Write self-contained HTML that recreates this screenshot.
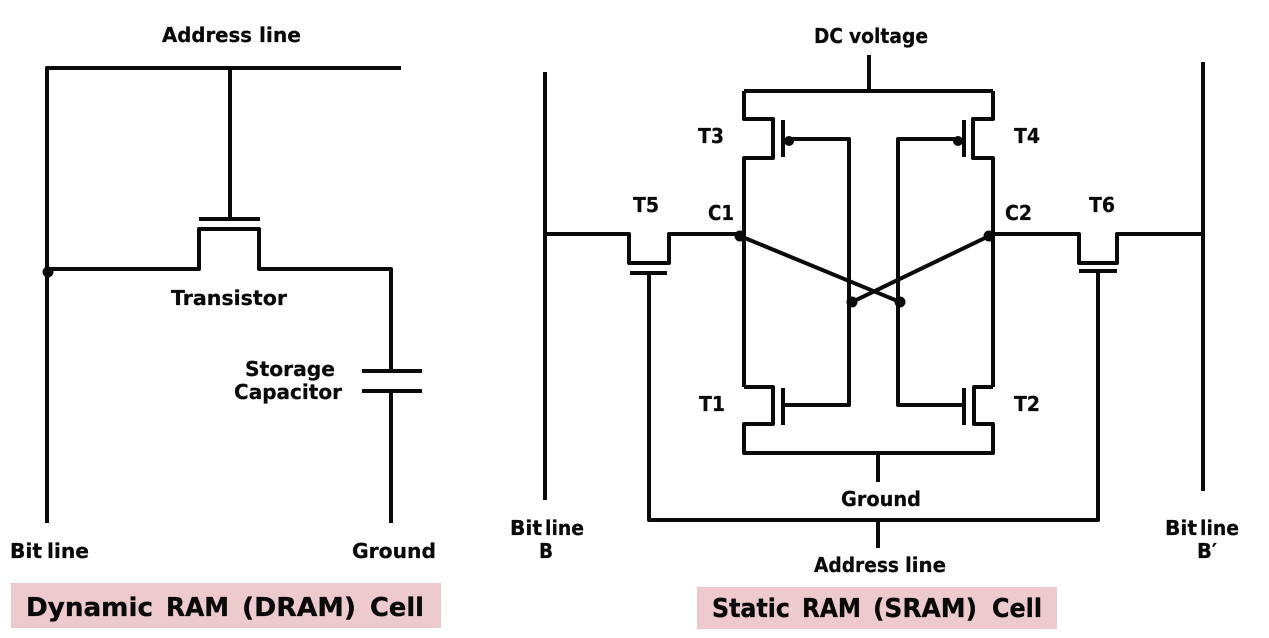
<!DOCTYPE html>
<html><head><meta charset="utf-8"><style>
html,body{margin:0;padding:0;background:#fff;width:1269px;height:638px;overflow:hidden}
svg{display:block;filter:blur(.35px)}
text{font-family:"DejaVu Sans","Liberation Sans",sans-serif;font-weight:bold;fill:#0a0a0a;stroke:#0a0a0a;stroke-width:.25px;font-size:20px}
.t{font-size:26px;stroke-width:.35px}
.l{fill:none;stroke:#0a0a0a;stroke-width:4;stroke-linejoin:round;stroke-linecap:butt}
.c{fill:#0a0a0a}
</style></head><body>
<svg width="1269" height="638" viewBox="0 0 1269 638" xmlns="http://www.w3.org/2000/svg">
<rect x="11" y="583" width="430" height="45" fill="#edcacd"/>
<rect x="697" y="587" width="360" height="42" fill="#edcacd"/>
<!-- DRAM -->
<path class="l" d="M401 68H47V523"/>
<path class="l" d="M230 68V219M199 219H260"/>
<path class="l" d="M47 269H199V229H259V269H391V371M362 371H422M362 391H422M391 391V523"/>
<circle class="c" cx="48" cy="272" r="5.5"/>
<!-- SRAM -->
<path class="l" d="M545 72V500M1203 62V491"/>
<path class="l" d="M545 234H629V263H669V234H744"/>
<path class="l" d="M630 273H667M649 273V520H1098V271M1079 271H1117"/>
<path class="l" d="M993 234H1079V263H1117V234H1203"/>
<path class="l" d="M869 55V91M744 91H993"/>
<path class="l" d="M744 387V158H773V119H744V91M993 91V119H973V158H993V387"/>
<path class="l" d="M783 120V157M964 120V157"/>
<path class="l" d="M789 139H849V405H783M783 388V425"/>
<path class="l" d="M958 139H898V405H964M964 388V425"/>
<path class="l" d="M744 387H773V424H744V453H993V424H974V387H993"/>
<path class="l" d="M878 453V482M878 520V548"/>
<path class="l" d="M740 236L900 302M989 236L852 302"/>
<circle class="c" cx="789" cy="141" r="5"/>
<circle class="c" cx="958" cy="141" r="5"/>
<circle class="c" cx="740" cy="236" r="5.5"/>
<circle class="c" cx="989" cy="236" r="5.5"/>
<circle class="c" cx="852" cy="302" r="5.5"/>
<circle class="c" cx="900" cy="302" r="5.5"/>
<!-- labels -->
<text x="162" y="42" textLength="90" lengthAdjust="spacingAndGlyphs">Address</text>
<text x="259" y="42" textLength="42" lengthAdjust="spacingAndGlyphs">line</text>
<text x="171" y="305" textLength="116" lengthAdjust="spacingAndGlyphs">Transistor</text>
<text x="245" y="376" textLength="90" lengthAdjust="spacingAndGlyphs">Storage</text>
<text x="234" y="399" textLength="108" lengthAdjust="spacingAndGlyphs">Capacitor</text>
<text x="10" y="558" textLength="32" lengthAdjust="spacingAndGlyphs">Bit</text>
<text x="47" y="558" textLength="42" lengthAdjust="spacingAndGlyphs">line</text>
<text x="352" y="558" textLength="84" lengthAdjust="spacingAndGlyphs">Ground</text>
<text class="t" x="26" y="616" textLength="127" lengthAdjust="spacingAndGlyphs">Dynamic</text>
<text class="t" x="166" y="616" textLength="63" lengthAdjust="spacingAndGlyphs">RAM</text>
<text class="t" x="242" y="616" textLength="114" lengthAdjust="spacingAndGlyphs">(DRAM)</text>
<text class="t" x="370" y="616" textLength="54" lengthAdjust="spacingAndGlyphs">Cell</text>
<text x="814" y="43" textLength="29" lengthAdjust="spacingAndGlyphs">DC</text>
<text x="849" y="43" textLength="79" lengthAdjust="spacingAndGlyphs">voltage</text>
<text x="698" y="143" textLength="26" lengthAdjust="spacingAndGlyphs">T3</text>
<text x="1014" y="143" textLength="26" lengthAdjust="spacingAndGlyphs">T4</text>
<text x="633" y="212" textLength="26" lengthAdjust="spacingAndGlyphs">T5</text>
<text x="1089" y="212" textLength="26" lengthAdjust="spacingAndGlyphs">T6</text>
<text x="708" y="220" textLength="26" lengthAdjust="spacingAndGlyphs">C1</text>
<text x="1005" y="220" textLength="27" lengthAdjust="spacingAndGlyphs">C2</text>
<text x="699" y="411" textLength="26" lengthAdjust="spacingAndGlyphs">T1</text>
<text x="1014" y="411" textLength="26" lengthAdjust="spacingAndGlyphs">T2</text>
<text x="841" y="506" textLength="80" lengthAdjust="spacingAndGlyphs">Ground</text>
<text x="510" y="535" textLength="32" lengthAdjust="spacingAndGlyphs">Bit</text>
<text x="545" y="535" textLength="39" lengthAdjust="spacingAndGlyphs">line</text>
<text x="539" y="558" textLength="14" lengthAdjust="spacingAndGlyphs">B</text>
<text x="1165" y="535" textLength="32" lengthAdjust="spacingAndGlyphs">Bit</text>
<text x="1200" y="535" textLength="39" lengthAdjust="spacingAndGlyphs">line</text>
<text x="1197" y="558" textLength="20" lengthAdjust="spacingAndGlyphs">B′</text>
<text x="814" y="572" textLength="85" lengthAdjust="spacingAndGlyphs">Address</text>
<text x="905" y="572" textLength="41" lengthAdjust="spacingAndGlyphs">line</text>
<text class="t" x="712" y="617" textLength="78" lengthAdjust="spacingAndGlyphs">Static</text>
<text class="t" x="802" y="617" textLength="59" lengthAdjust="spacingAndGlyphs">RAM</text>
<text class="t" x="873" y="617" textLength="104" lengthAdjust="spacingAndGlyphs">(SRAM)</text>
<text class="t" x="992" y="617" textLength="50" lengthAdjust="spacingAndGlyphs">Cell</text>
</svg>
</body></html>
